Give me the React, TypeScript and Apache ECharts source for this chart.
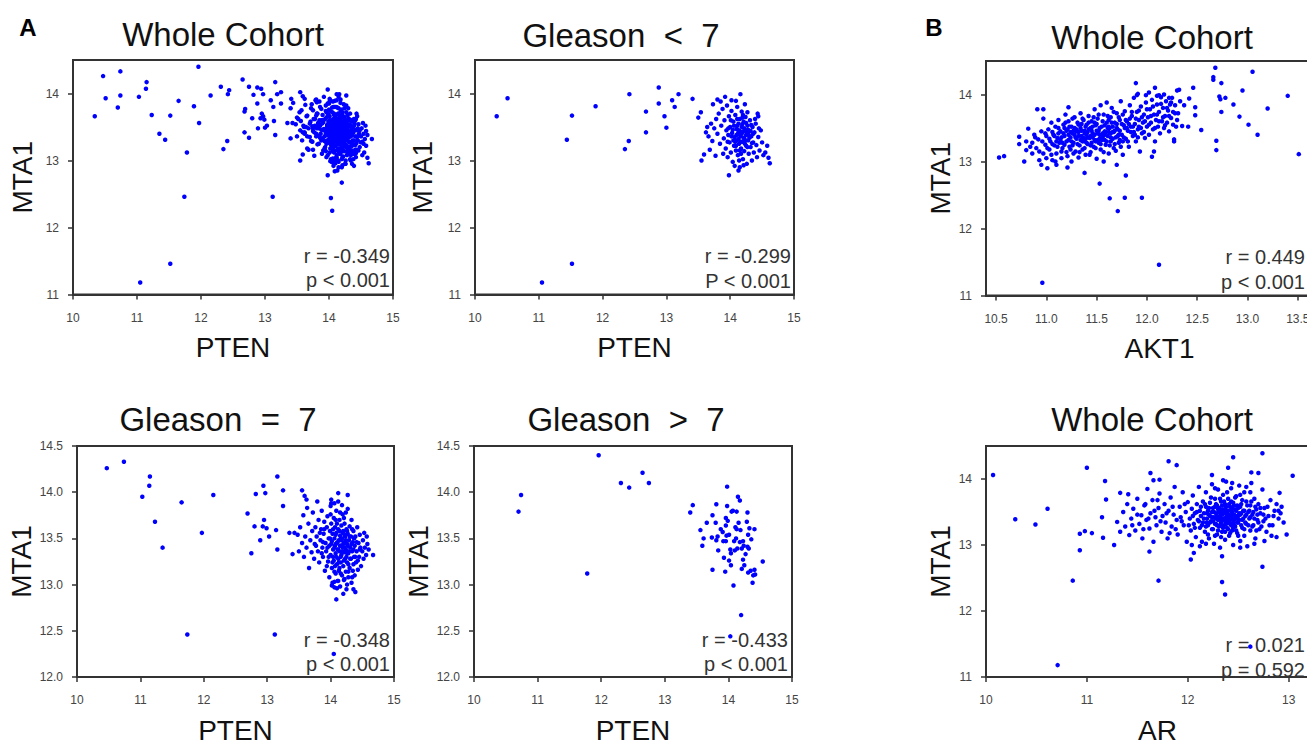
import React, { useEffect, useRef } from "react";
import * as echarts from "echarts";

// ---------- DATA ----------
// PTEN vs MTA1, Gleason < 7
const gleasonLow: number[][] = [
  [10.34,13.66],[10.51,13.93],[11.05,11.18],[11.52,11.46],[11.44,13.31],[11.52,13.67],[11.89,13.81],[12.35,13.17],[12.41,13.29],[12.42,13.99],
  [12.68,13.42],[12.68,13.73],[12.88,14.09],[12.88,13.85],[12.97,13.66],[13.00,13.49],[13.09,13.90],[13.13,13.80],[13.19,13.99],[13.41,13.92],
  [13.55,13.00],[13.59,13.09],[13.50,13.64],[13.54,13.72],[14.16,13.99],[14.09,13.89],[14.23,13.84],[13.98,12.78],[14.62,12.96],[14.43,13.70],
  [14.44,13.66],[13.80,13.91],[13.73,13.84],[13.62,13.42],[13.66,13.36],[13.70,13.55],[13.72,13.29],[13.75,13.48],[13.78,13.62],[13.80,13.40],
  [13.82,13.70],[13.84,13.25],[13.86,13.52],[13.88,13.77],[13.90,13.33],[13.91,13.60],[13.93,13.18],[13.94,13.45],[13.95,13.82],[13.96,13.05],
  [13.97,13.38],[13.98,13.66],[13.99,13.27],[14.00,13.50],[14.01,13.12],[14.02,13.74],[14.03,13.41],[14.04,12.98],[14.05,13.58],[14.06,13.22],
  [14.07,13.35],[14.08,13.68],[14.09,13.15],[14.10,13.47],[14.10,13.30],[14.11,13.80],[14.12,13.08],[14.12,13.40],[14.13,13.55],[14.14,13.25],
  [14.15,12.90],[14.15,13.62],[14.16,13.36],[14.17,13.18],[14.18,13.50],[14.18,13.73],[14.19,13.28],[14.20,13.43],[14.20,13.02],[14.21,13.58],
  [14.22,13.33],[14.22,13.14],[14.23,13.46],[14.24,13.65],[14.25,13.22],[14.25,13.38],[14.26,12.95],[14.27,13.52],[14.28,13.30],[14.29,13.10],
  [14.30,13.44],[14.31,13.60],[14.32,13.20],[14.33,13.36],[14.34,13.00],[14.35,13.50],[14.36,13.27],[14.37,13.12],[14.38,13.42],[14.40,13.55],
  [14.41,13.23],[14.42,13.05],[14.44,13.35],[14.46,13.15],[14.48,13.45],[14.50,13.27],[14.52,13.08],[14.55,13.12],[14.58,13.22],[14.60,13.04],
  [13.68,13.16],[13.64,13.50],[13.77,13.07],[13.85,13.88],[13.92,13.95],[14.02,13.90],[14.27,13.72],[14.33,13.53],[14.14,13.00],[14.07,12.92],
  [14.20,13.68],[14.11,13.52],[14.05,13.30],[14.17,13.42],[14.23,13.25],[13.97,13.48],[14.29,13.38],[14.15,13.15],[13.89,13.10],[14.39,13.62],
  [14.45,13.48],[14.13,12.85],[14.21,12.93],
  [14.02,13.36],[14.04,13.46],[14.06,13.52],[14.08,13.28],[14.10,13.38],[14.12,13.46],[14.13,13.32],[14.15,13.44],[14.16,13.28],[14.18,13.40],
  [14.19,13.54],[14.21,13.34],[14.22,13.48],[14.24,13.30],[14.26,13.42],[14.27,13.20],[14.28,13.46],[14.30,13.34],[14.32,13.44],[14.34,13.26],
  [14.09,13.22],[14.17,13.10],[14.25,13.56],[14.01,13.60],[13.96,13.28],[14.36,13.40],[14.19,13.64],[14.11,13.62]
];

// PTEN vs MTA1, Gleason = 7
const gleasonMid: number[][] = [
  [10.47,14.26],[10.74,14.33],[11.03,13.95],[11.14,14.07],[11.15,14.17],[11.23,13.68],[11.35,13.40],[11.65,13.89],[11.74,12.46],[11.97,13.56],
  [12.15,13.97],[12.69,13.77],[12.75,13.34],[12.80,13.63],[12.82,13.98],[12.89,13.48],[12.94,14.07],[12.95,13.70],[12.97,13.99],[12.93,13.63],
  [12.99,13.61],[13.03,13.52],[13.12,12.46],[13.14,13.59],[13.16,14.17],[13.16,13.38],[13.25,14.02],[13.25,13.85],[13.35,13.56],[13.40,13.33],
  [13.43,13.56],[13.55,14.02],[13.59,13.96],[13.62,13.92],[14.05,12.25],[14.09,12.84],[14.27,13.97],[14.12,13.99],[14.67,13.32],[14.57,13.52],
  [14.53,13.56],[14.39,12.92],[14.36,12.95],[14.26,13.00],[14.06,13.03],[14.01,13.92],[14.01,13.88],
  [13.48,13.54],[13.50,13.36],[13.52,13.62],[13.55,13.45],[13.57,13.75],[13.58,13.30],[13.60,13.52],[13.62,13.40],[13.63,13.83],[13.65,13.66],
  [13.66,13.18],[13.68,13.48],[13.70,13.35],[13.71,13.58],[13.72,13.78],[13.74,13.28],[13.75,13.44],[13.76,13.62],[13.78,13.52],[13.79,13.90],
  [13.80,13.36],[13.81,13.70],[13.82,13.24],[13.84,13.48],[13.85,13.60],[13.86,13.80],[13.87,13.40],[13.88,13.30],[13.89,13.55],[13.90,13.68],
  [13.91,13.15],[13.92,13.45],[13.93,13.36],[13.94,13.62],[13.95,13.74],[13.96,13.25],[13.97,13.50],[13.98,13.08],[13.98,13.42],[13.99,13.58],
  [14.00,13.32],[14.00,13.85],[14.01,13.66],[14.02,13.18],[14.02,13.47],[14.03,13.02],[14.03,13.55],[14.04,13.38],[14.05,13.72],[14.05,13.26],
  [14.06,13.50],[14.06,12.97],[14.07,13.42],[14.07,13.62],[14.08,13.12],[14.08,13.34],[14.09,13.56],[14.09,13.80],[14.10,13.22],[14.10,13.45],
  [14.11,13.04],[14.11,13.38],[14.12,13.60],[14.12,13.28],[14.13,13.48],[14.13,13.15],[14.14,13.70],[14.14,13.36],[14.15,13.53],[14.15,12.98],
  [14.16,13.42],[14.16,13.24],[14.17,13.64],[14.17,13.32],[14.18,13.10],[14.18,13.50],[14.19,13.40],[14.19,13.76],[14.20,13.20],[14.20,13.58],
  [14.21,13.35],[14.21,13.05],[14.22,13.46],[14.22,13.66],[14.23,13.28],[14.23,13.52],[14.24,13.14],[14.24,13.38],[14.25,13.60],[14.25,12.95],
  [14.26,13.44],[14.26,13.24],[14.27,13.55],[14.27,13.82],[14.28,13.34],[14.28,13.08],[14.29,13.48],[14.30,13.18],[14.30,13.63],[14.31,13.40],
  [14.32,13.28],[14.32,13.52],[14.33,13.02],[14.33,13.70],[14.34,13.36],[14.35,13.46],[14.35,13.15],[14.36,13.58],[14.37,13.30],[14.38,13.42],
  [14.38,13.10],[14.39,13.52],[14.40,13.24],[14.41,13.36],[14.42,13.62],[14.43,13.16],[14.44,13.45],[14.45,13.30],[14.46,13.54],[14.47,13.40],
  [14.48,13.20],[14.50,13.36],[14.51,13.48],[14.52,13.28],[14.54,13.40],[14.56,13.32],[14.58,13.44],[14.60,13.38],
  [14.12,13.90],[14.18,13.86],[14.24,13.78],[14.06,13.88],[13.94,13.20],[14.10,12.96],[14.02,12.99],[14.20,12.90],[14.36,13.22],[14.14,13.18],
  [14.22,13.40],[14.16,13.50],[14.08,13.44],[14.26,13.34],[14.04,13.30],
  [13.95,13.40],[13.97,13.30],[13.99,13.50],[14.01,13.44],[14.03,13.24],[14.04,13.60],[14.06,13.40],[14.07,13.20],[14.08,13.54],[14.09,13.30],
  [14.10,13.66],[14.11,13.46],[14.12,13.38],[14.13,13.24],[14.14,13.58],[14.15,13.42],[14.16,13.30],[14.17,13.48],[14.18,13.36],[14.19,13.56],
  [14.20,13.44],[14.21,13.26],[14.22,13.54],[14.23,13.36],[14.24,13.48],[14.25,13.30],[14.26,13.58],[14.27,13.42],[14.28,13.22],[14.29,13.36],
  [14.30,13.52],[14.31,13.28],[14.33,13.44],[14.34,13.60],[14.36,13.38],[14.37,13.50],[14.39,13.30],[14.41,13.46],[14.43,13.26],[14.46,13.38],
  [14.16,13.12],[14.22,13.06],[14.28,13.14],[14.12,13.04],[14.34,13.08],[14.06,13.14],[14.00,13.76],[14.08,13.70],[14.15,13.78],[14.21,13.72],
  [13.88,13.46],[13.90,13.60],[13.86,13.34],[13.83,13.56],[13.77,13.42]
];

// PTEN vs MTA1, Gleason > 7
const gleasonHigh: number[][] = [
  [10.70,13.79],[10.74,13.97],[11.96,14.40],[11.78,13.12],[12.31,14.10],[12.44,14.05],[12.65,14.21],[12.75,14.10],[13.40,13.78],[13.44,13.86],
  [13.56,13.59],[13.61,13.50],[13.59,13.42],[13.66,13.67],[13.75,13.16],[13.75,13.75],[13.74,13.51],[13.81,13.87],[13.80,13.67],[13.81,13.48],
  [13.83,13.52],[13.84,13.37],[13.88,13.60],[13.91,13.57],[13.93,13.29],[13.95,13.14],[13.96,13.64],[13.96,13.72],[13.92,13.47],[13.96,13.47],
  [13.97,13.53],[13.98,14.06],[13.98,13.85],[13.99,13.69],[14.01,13.54],[14.01,13.26],[14.03,13.38],[14.03,12.44],[14.04,13.21],[14.04,13.34],
  [14.05,13.79],[14.07,13.80],[14.08,12.99],[14.09,13.47],[14.10,13.37],[14.11,13.62],[14.12,13.50],[14.13,13.79],[14.13,13.60],[14.14,13.39],
  [14.15,13.95],[14.16,13.67],[14.18,13.91],[14.19,13.59],[14.18,13.46],[14.20,12.67],[14.21,13.17],[14.21,13.39],[14.23,13.47],[14.23,13.27],
  [14.24,13.42],[14.25,13.21],[14.27,13.33],[14.29,13.68],[14.30,13.41],[14.31,13.13],[14.31,13.54],[14.32,13.39],[14.33,13.61],[14.35,13.15],
  [14.36,13.49],[14.38,13.02],[14.39,13.10],[14.41,13.60],[14.41,13.16],[14.42,13.11],[14.54,13.25],[14.30,13.78]
];

// Whole cohort = union of the three Gleason groups
const wholePten: number[][] = [...gleasonLow, ...gleasonMid, ...gleasonHigh];

// AKT1 vs MTA1, whole cohort
const aktMta: number[][] = [
  [10.53,13.06],[10.58,13.08],[10.96,11.19],[12.12,11.46],[11.71,12.26],[11.63,12.45],[11.78,12.46],[11.95,12.46],[11.53,12.67],[11.79,12.79],
  [11.38,12.83],[12.68,14.40],[12.66,14.26],[12.66,14.22],[12.74,14.17],[13.05,14.34],[12.95,14.06],[12.46,14.10],[12.72,13.97],[12.73,13.93],
  [12.78,13.95],[12.86,13.85],[12.74,13.74],[12.92,13.67],[13.01,13.55],[13.10,13.40],[13.20,13.79],[13.40,13.98],[13.51,13.11],[12.69,13.31],
  [12.69,13.17],[12.54,13.47],[12.48,13.81],[12.48,13.69],[12.41,13.52],[12.35,13.53],[12.42,13.94],[12.37,13.84],[12.30,14.06],[12.32,14.07],
  [12.27,13.30],[12.27,13.33],[12.08,14.10],[11.89,14.17],[12.05,13.07],[12.07,13.15],[11.90,13.99],[11.91,14.01],[12.12,13.99],[11.99,13.99],
  [10.73,13.37],[10.78,13.00],[10.82,13.49],[10.91,13.78],[10.97,13.78],[10.97,13.64],[10.93,13.02],[10.95,12.95],[11.01,12.90],[11.10,12.95],
  [11.21,12.91],[11.22,13.81],[10.73,13.26],[10.80,13.17],[10.86,13.12],
  [10.86,13.28],[10.88,13.40],[10.90,13.20],[10.92,13.33],[10.95,13.45],[10.97,13.12],[10.99,13.25],[11.00,13.38],[11.00,13.05],
  [11.02,13.48],[11.03,13.18],[11.04,13.30],[11.05,13.58],[11.06,13.02],[11.07,13.40],[11.08,13.24],[11.09,13.52],[11.10,13.12],[11.11,13.35],
  [11.12,13.62],[11.13,13.28],[11.14,13.45],[11.15,13.05],[11.16,13.20],[11.17,13.55],[11.18,13.38],[11.19,13.70],[11.20,13.14],[11.20,13.30],
  [11.21,13.48],[11.22,13.60],[11.23,13.22],[11.24,13.36],[11.25,13.00],[11.25,13.52],[11.26,13.42],[11.27,13.28],[11.28,13.66],[11.29,13.15],
  [11.30,13.45],[11.30,13.34],[11.31,13.58],[11.32,13.06],[11.33,13.24],[11.34,13.50],[11.34,13.72],[11.35,13.38],[11.36,13.18],[11.37,13.62],
  [11.38,13.30],[11.38,13.46],[11.39,13.10],[11.40,13.55],[11.40,13.40],
  [11.41,13.26],[11.42,13.68],[11.43,13.35],[11.44,13.50],[11.44,13.14],[11.45,13.60],[11.46,13.42],[11.47,13.22],[11.48,13.78],[11.48,13.32],
  [11.49,13.54],[11.50,13.04],[11.50,13.46],[11.51,13.64],[11.52,13.28],[11.53,13.40],[11.54,13.84],[11.54,13.18],[11.55,13.52],[11.56,13.36],
  [11.57,13.70],[11.57,13.00],[11.58,13.45],[11.59,13.25],[11.60,13.58],[11.60,13.88],
  [11.61,13.38],[11.62,13.12],[11.63,13.50],[11.64,13.66],[11.64,13.30],[11.65,13.80],[11.66,13.44],[11.67,13.20],[11.68,13.58],[11.69,13.36],
  [11.70,12.95],[11.70,13.72],[11.71,13.48],[11.72,13.28],[11.73,13.62],[11.74,13.90],[11.75,13.40],[11.76,13.10],[11.77,13.54],[11.78,13.75],
  [11.79,13.34],[11.80,13.60],
  [11.81,13.46],[11.82,13.22],[11.83,13.84],[11.84,13.52],[11.85,13.68],[11.86,13.38],[11.87,13.95],[11.88,13.56],[11.89,13.30],[11.90,13.74],
  [11.91,13.48],[11.92,13.62],[11.93,13.15],[11.94,13.82],[11.95,13.42],[11.96,13.58],[11.97,13.70],[11.98,13.35],[11.99,13.88],[12.00,13.52],
  [12.01,13.66],[12.02,13.40],[12.03,13.78],[12.04,13.58],[12.05,13.92],[12.06,13.48],[12.07,13.70],[12.08,13.30],[12.09,13.62],[12.10,13.85],
  [12.11,13.52],[12.12,13.74],[12.13,13.42],[12.14,13.96],[12.15,13.60],[12.16,13.80],[12.17,13.50],[12.18,13.68],[12.19,13.90],[12.20,13.58],
  [12.21,13.76],[12.22,13.45],[12.23,13.85],[12.24,13.65],[12.25,13.95],[12.26,13.55],[12.28,13.72],[12.30,13.62],
  [11.12,13.42],[11.18,13.50],[11.22,13.32],[11.28,13.40],[11.32,13.44],[11.36,13.30],[11.42,13.48],[11.46,13.36],[11.52,13.46],[11.56,13.42],
  [11.62,13.44],[11.66,13.52],[11.24,13.18],[11.35,13.56],[11.44,13.24],[11.58,13.32],[11.68,13.26],[11.15,13.36],[11.06,13.44],[11.27,13.46],
  [11.39,13.34],[11.48,13.58],[11.53,13.34],[11.62,13.62],[11.72,13.40],[11.80,13.50],[11.87,13.44],[11.76,13.30],[11.83,13.64],[11.92,13.52],
  [10.80,13.30],[10.84,13.22],[10.89,13.36],[10.93,13.15],[10.96,13.30],[10.99,13.42],[11.01,13.20],[11.03,13.34],[11.05,13.10],[11.06,13.26],
  [11.08,13.38],[11.09,13.00],[11.11,13.22],[11.12,13.50],[11.14,13.32],[11.15,13.15],[11.17,13.42],[11.18,13.25],[11.19,13.58],[11.21,13.08],
  [11.22,13.40],[11.23,13.52],[11.25,13.30],[11.26,13.64],[11.27,13.12],[11.28,13.50],[11.29,13.36],[11.31,13.26],[11.32,13.55],[11.33,13.14],
  [11.35,13.46],[11.36,13.64],[11.37,13.35],[11.38,13.20],[11.39,13.52],[11.40,13.28],[11.41,13.44],[11.42,13.58],[11.43,13.10],[11.44,13.38],
  [11.45,13.28],[11.46,13.52],[11.47,13.66],[11.48,13.40],[11.49,13.20],[11.50,13.56],[11.51,13.32],[11.52,13.70],[11.53,13.50],[11.54,13.26],
  [11.55,13.40],[11.56,13.60],[11.57,13.14],[11.58,13.54],[11.59,13.44],[11.60,13.30],[11.61,13.68],[11.62,13.52],[11.63,13.24],[11.64,13.42],
  [11.65,13.58],[11.66,13.34],[11.67,13.74],[11.68,13.46],[11.69,13.16],[11.70,13.56],[11.71,13.38],[11.72,13.66],[11.73,13.46],[11.74,13.22],
  [11.75,13.56],[11.76,13.70],[11.77,13.36],[11.78,13.50],[11.79,13.62],[11.81,13.30],[11.82,13.56],[11.84,13.44],[11.85,13.74],[11.86,13.52],
  [11.88,13.40],[11.89,13.64],[11.91,13.36],[11.92,13.76],[11.94,13.50],[11.95,13.66],[11.97,13.44],[11.98,13.60],[12.00,13.78],[12.02,13.55],
  [12.04,13.68],[12.06,13.82],[12.08,13.50],[12.10,13.70],[12.12,13.60],[12.14,13.86],[12.16,13.66],[12.18,13.54],[12.20,13.80],[12.22,13.68],
  [12.24,13.88],[12.26,13.74],[12.28,13.84],[12.29,13.52],[12.31,13.72],[12.33,13.90],[12.22,13.95],[12.17,14.00],[12.10,13.98],[12.02,14.03],
  [11.20,13.46],[11.24,13.44],[11.30,13.48],[11.34,13.32],[11.38,13.42],[11.41,13.36],[11.45,13.46],[11.49,13.30],[11.51,13.42],[11.55,13.32],
  [11.58,13.40],[11.61,13.50],[11.64,13.36],[11.67,13.44],[11.70,13.50],[11.73,13.32],[11.16,13.28],[11.10,13.30],[11.26,13.24],[11.32,13.38]
];

// AR vs MTA1, whole cohort
const arMta: number[][] = [
  [10.07,14.06],[10.29,13.39],[10.49,13.31],[10.61,13.55],[10.71,11.18],[10.86,12.46],[10.93,12.92],[10.93,13.17],[10.98,13.21],[11.00,14.17],
  [11.05,13.18],[11.16,13.11],[11.27,13.00],[11.15,13.42],[11.18,13.97],[11.19,13.69],[11.71,12.46],[11.62,12.90],[11.81,14.27],[11.89,14.21],
  [12.03,12.78],[12.06,12.88],[12.34,12.44],[12.37,12.25],[12.34,12.83],[12.45,14.33],[12.74,14.39],[12.74,12.67],[13.04,14.05],[12.98,13.16],
  [12.91,13.79],[12.62,11.46],[12.63,14.10],[12.70,14.09],[12.40,14.17],[12.24,14.06],[12.90,13.52],[12.83,13.14],[12.76,13.06],[11.33,13.79],
  [11.41,13.77],[11.63,14.09],[11.66,13.98],[11.72,13.99],
  [11.30,13.35],[11.33,13.20],[11.36,13.50],[11.38,13.28],[11.40,13.62],[11.42,13.15],[11.44,13.40],[11.46,13.55],[11.48,13.22],[11.50,13.70],
  [11.52,13.32],[11.54,13.45],[11.55,13.10],[11.57,13.60],[11.59,13.38],[11.60,13.85],[11.62,13.25],[11.63,13.48],[11.65,13.68],[11.66,13.05],
  [11.68,13.42],[11.69,13.30],[11.71,13.56],[11.72,13.78],[11.74,13.20],[11.75,13.44],[11.77,13.62],[11.78,13.34],[11.80,13.10],[11.81,13.52],
  [11.83,13.72],[11.84,13.28],[11.86,13.46],[11.87,13.88],[11.89,13.38],[11.90,13.16],[11.92,13.58],[11.93,13.42],[11.95,13.80],[11.96,13.30],
  [11.98,13.50],[11.99,13.05],[12.00,13.65],
  [12.02,13.40],[12.03,13.22],[12.04,13.55],[12.05,13.75],[12.06,13.32],[12.07,13.48],[12.08,13.12],[12.09,13.62],[12.10,13.38],[12.11,13.88],
  [12.12,13.26],[12.12,13.52],[12.13,13.44],[12.14,13.05],[12.15,13.66],[12.15,13.34],[12.16,13.48],[12.17,13.20],[12.18,13.58],[12.18,13.80],
  [12.19,13.40],[12.20,13.30],[12.20,13.52],[12.21,13.10],[12.22,13.64],[12.22,13.44],[12.23,13.36],[12.24,13.92],[12.24,13.24],[12.25,13.56],
  [12.26,13.42],[12.26,13.02],[12.27,13.70],[12.27,13.32],[12.28,13.48],[12.29,13.16],[12.29,13.60],[12.30,13.38],[12.30,13.84],[12.31,13.28],
  [12.31,13.50],[12.32,13.44],[12.32,12.96],[12.33,13.66],[12.33,13.34],[12.34,13.54],[12.34,13.20],[12.35,13.40],[12.35,13.76],[12.36,13.30],
  [12.36,13.48],[12.37,13.08],[12.37,13.62],[12.38,13.42],[12.38,13.96],[12.39,13.26],[12.39,13.52],[12.40,13.36],[12.40,13.70],[12.41,13.46],
  [12.41,13.14],[12.42,13.58],[12.42,13.32],[12.43,13.42],[12.43,13.86],[12.44,13.22],[12.44,13.50],[12.45,13.00],[12.45,13.64],[12.46,13.38],
  [12.47,13.54],[12.47,13.28],[12.48,13.74],[12.48,13.44],[12.49,13.18],[12.50,13.56],[12.50,13.34],[12.51,13.90],[12.52,13.46],[12.52,13.06],
  [12.53,13.62],[12.54,13.38],[12.54,13.26],[12.55,13.52],[12.56,13.80],[12.56,13.14],[12.57,13.44],[12.58,13.66],[12.58,13.32],[12.59,12.98],
  [12.60,13.50],[12.61,13.40],[12.62,13.22],[12.62,13.60],[12.63,13.94],[12.64,13.46],[12.65,13.30],[12.66,13.70],[12.67,13.10],[12.68,13.54],
  [12.69,13.38],[12.70,13.62],[12.71,13.24],[12.72,13.48],[12.74,13.84],[12.75,13.36],[12.76,13.56],[12.78,13.20],[12.80,13.44],[12.82,13.68],
  [12.84,13.30],[12.86,13.52],[12.88,13.12],[12.90,13.40],[12.93,13.58],
  [12.21,13.46],[12.25,13.36],[12.28,13.40],[12.31,13.56],[12.34,13.46],[12.37,13.36],[12.40,13.42],[12.43,13.52],[12.46,13.46],[12.49,13.40],
  [12.24,13.50],[12.29,13.30],[12.33,13.40],[12.36,13.54],[12.39,13.46],[12.42,13.38],[12.45,13.34],[12.51,13.48],[12.27,13.58],[12.19,13.34],
  [12.05,13.44],[12.07,13.26],[12.09,13.50],[12.11,13.36],[12.13,13.58],[12.14,13.30],[12.16,13.40],[12.17,13.62],[12.18,13.28],[12.19,13.48],
  [12.20,13.16],[12.21,13.56],[12.22,13.34],[12.23,13.72],[12.24,13.42],[12.25,13.24],[12.26,13.50],[12.27,13.14],[12.28,13.62],[12.28,13.32],
  [12.29,13.44],[12.30,13.54],[12.30,13.22],[12.31,13.40],[12.32,13.70],[12.32,13.30],[12.33,13.50],[12.33,13.12],[12.34,13.38],[12.34,13.60],
  [12.35,13.26],[12.35,13.48],[12.36,13.66],[12.36,13.40],[12.37,13.20],[12.37,13.50],[12.38,13.32],[12.38,13.58],[12.39,13.40],[12.39,13.80],
  [12.40,13.24],[12.40,13.52],[12.41,13.34],[12.41,13.62],[12.42,13.44],[12.42,13.18],[12.43,13.30],[12.43,13.66],[12.44,13.40],[12.44,13.56],
  [12.45,13.26],[12.45,13.46],[12.46,13.60],[12.46,13.30],[12.47,13.40],[12.47,13.72],[12.48,13.22],[12.48,13.52],[12.49,13.34],[12.49,13.60],
  [12.50,13.44],[12.50,13.14],[12.51,13.38],[12.52,13.58],[12.53,13.30],[12.53,13.48],[12.54,13.68],[12.55,13.40],[12.56,13.24],[12.56,13.52],
  [12.57,13.34],[12.58,13.46],[12.59,13.60],[12.60,13.30],[12.61,13.52],[12.62,13.42],[12.63,13.66],[12.64,13.28],[12.65,13.50],[12.66,13.40],
  [12.67,13.58],[12.68,13.22],[12.69,13.46],[12.70,13.34],[12.72,13.56],[12.73,13.28],[12.75,13.46],[12.77,13.40],[12.79,13.58],[12.81,13.30],
  [12.85,13.44],[12.88,13.62],[12.92,13.48],[12.95,13.34],[12.62,13.80],[12.58,13.88],[12.52,13.76],[12.44,13.94],[12.35,13.98],[12.27,13.86],
  [11.45,13.30],[11.50,13.46],[11.56,13.24],[11.61,13.40],[11.67,13.52],[11.73,13.36],[11.79,13.48],[11.85,13.58],[11.88,13.24],[11.94,13.36],
  [11.97,13.62],[12.01,13.30],[11.70,13.68],[11.82,13.18],[11.58,13.62],[12.04,13.00],[12.12,12.98],[12.18,13.02],[12.52,12.96],[12.66,13.02]
];

// tick labels
const ptenTicks = [10, 11, 12, 13, 14, 15];
const mtaTicksTop = [11, 12, 13, 14];
const mtaTicksBottom = [12, 12.5, 13, 13.5, 14, 14.5];
const aktTicks = [10.5, 11, 11.5, 12, 12.5, 13, 13.5];
const arTicks = [10, 11, 12, 13];

const panelTitles = ["Whole Cohort", "Gleason  <  7", "Whole Cohort", "Gleason  =  7", "Gleason  >  7", "Whole Cohort"];
const xNames = ["PTEN", "PTEN", "AKT1", "PTEN", "PTEN", "AR"];
const statTexts = [
  ["r = -0.349", "p < 0.001"],
  ["r = -0.299", "P < 0.001"],
  ["r = 0.449", "p < 0.001"],
  ["r = -0.348", "p < 0.001"],
  ["r = -0.433", "p < 0.001"],
  ["r = 0.021", "p = 0.592"],
];
const panelLetters = ["A", "B"];

// ---------- LAYOUT ----------
const FONT = "Liberation Sans, Arial, Helvetica, sans-serif";
const CANVAS_W = 1370; // wider than the window so the right-hand boxes run off the edge, as in the reference

const panels = [
  { data: wholePten, grid: { left: 73, top: 60, width: 320, height: 234.5 }, x: [10, 15], y: [11, 14.5], xt: ptenTicks, yt: mtaTicksTop, xDec: false, yDec: false, yGap: 37, title: [223, 34], statX: 390, statY: [256, 280] },
  { data: gleasonLow, grid: { left: 475, top: 60, width: 319, height: 234.5 }, x: [10, 15], y: [11, 14.5], xt: ptenTicks, yt: mtaTicksTop, xDec: false, yDec: false, yGap: 39, title: [621, 35], statX: 791, statY: [256, 281] },
  { data: aktMta, grid: { left: 986, top: 61, width: 347, height: 234.5 }, x: [10.4, 13.85], y: [11, 14.5], xt: aktTicks, yt: mtaTicksTop, xDec: true, yDec: false, yGap: 32, title: [1152, 37], statX: 1305, statY: [257, 282] },
  { data: gleasonMid, grid: { left: 77, top: 446, width: 317, height: 233 }, x: [10, 15], y: [12, 14.5], xt: ptenTicks, yt: mtaTicksBottom, xDec: false, yDec: true, yGap: 41, title: [218, 419], statX: 390, statY: [640, 664] },
  { data: gleasonHigh, grid: { left: 474, top: 446, width: 318, height: 233 }, x: [10, 15], y: [12, 14.5], xt: ptenTicks, yt: mtaTicksBottom, xDec: false, yDec: true, yGap: 41, title: [626, 419], statX: 788, statY: [640, 664] },
  { data: arMta, grid: { left: 986, top: 446, width: 343, height: 237 }, x: [10, 13.4], y: [11, 14.5], xt: arTicks, yt: mtaTicksTop, xDec: false, yDec: false, yGap: 32, title: [1152, 419], statX: 1305, statY: [645, 670] },
];

const letterPos = [[28, 27], [934, 27]];

function fmt(dec: boolean) {
  return (v: number) => (dec ? Number(v).toFixed(1) : String(Math.round(v)));
}

export default function App() {
  const ref = useRef<HTMLDivElement>(null);
  useEffect(() => {
    if (!ref.current) return;
    const chart = echarts.init(ref.current, undefined, { renderer: "svg" });
    const axisLineStyle = { color: "#333", width: 2 };
    const tickStyle = { color: "#333", width: 1.5 };
    const labelStyle = { fontSize: 12, color: "#444", fontFamily: FONT };

    const grids = panels.map((p) => ({
      ...p.grid,
      show: true,
      borderColor: "#333",
      borderWidth: 2,
      backgroundColor: "transparent",
      containLabel: false,
    }));
    const xAxes = panels.map((p, i) => ({
      gridIndex: i,
      type: "value",
      min: p.x[0],
      max: p.x[1],
      name: xNames[i],
      nameLocation: "middle",
      nameGap: 39,
      nameTextStyle: { fontSize: 28, color: "#111", fontFamily: FONT },
      axisLine: { show: true, onZero: false, lineStyle: axisLineStyle },
      axisTick: { show: true, inside: false, length: 5, lineStyle: tickStyle, customValues: p.xt },
      axisLabel: { ...labelStyle, margin: 17, customValues: p.xt, formatter: fmt(p.xDec) },
      splitLine: { show: false },
    }));
    const yAxes = panels.map((p, i) => ({
      gridIndex: i,
      type: "value",
      min: p.y[0],
      max: p.y[1],
      name: "MTA1",
      nameLocation: "middle",
      nameGap: p.yGap,
      nameTextStyle: { fontSize: 28, color: "#111", fontFamily: FONT },
      axisLine: { show: true, onZero: false, lineStyle: axisLineStyle },
      axisTick: { show: true, inside: false, length: 5, lineStyle: tickStyle, customValues: p.yt },
      axisLabel: { ...labelStyle, margin: 14, customValues: p.yt, formatter: fmt(p.yDec) },
      splitLine: { show: false },
    }));
    const series = panels.map((p, i) => ({
      type: "scatter",
      xAxisIndex: i,
      yAxisIndex: i,
      data: p.data,
      symbol: "circle",
      symbolSize: 4.5,
      itemStyle: { color: "#0000ff", opacity: 1 },
      emphasis: { disabled: true },
      silent: true,
    }));

    const graphics: any[] = [];
    panels.forEach((p, i) => {
      graphics.push({
        type: "text",
        x: p.title[0],
        y: p.title[1],
        silent: true,
        style: {
          text: panelTitles[i],
          fontSize: 33,
          fontFamily: FONT,
          fill: "#111",
          align: "center",
          verticalAlign: "middle",
          textAlign: "center",
          textVerticalAlign: "middle",
        },
      });
      statTexts[i].forEach((t, k) => {
        graphics.push({
          type: "text",
          x: p.statX,
          y: p.statY[k],
          silent: true,
          z: 10,
          style: {
            text: t,
            fontSize: 20,
            fontFamily: FONT,
            fill: "#333",
            align: "right",
            verticalAlign: "middle",
            textAlign: "right",
            textVerticalAlign: "middle",
          },
        });
      });
    });
    panelLetters.forEach((l, i) => {
      graphics.push({
        type: "text",
        x: letterPos[i][0],
        y: letterPos[i][1],
        silent: true,
        style: {
          text: l,
          fontSize: 24,
          fontWeight: "bold",
          fontFamily: FONT,
          fill: "#000",
          align: "center",
          verticalAlign: "middle",
          textAlign: "center",
          textVerticalAlign: "middle",
        },
      });
    });

    chart.setOption({
      animation: false,
      backgroundColor: "#ffffff",
      grid: grids,
      xAxis: xAxes,
      yAxis: yAxes,
      series,
      graphic: { elements: graphics },
    } as any);
    return () => chart.dispose();
  }, []);

  return (
    <div style={{ position: "absolute", left: 0, top: 0, width: 1307, height: 745, overflow: "hidden", background: "#fff" }}>
      <div ref={ref} style={{ width: CANVAS_W, height: 745 }} />
    </div>
  );
}
